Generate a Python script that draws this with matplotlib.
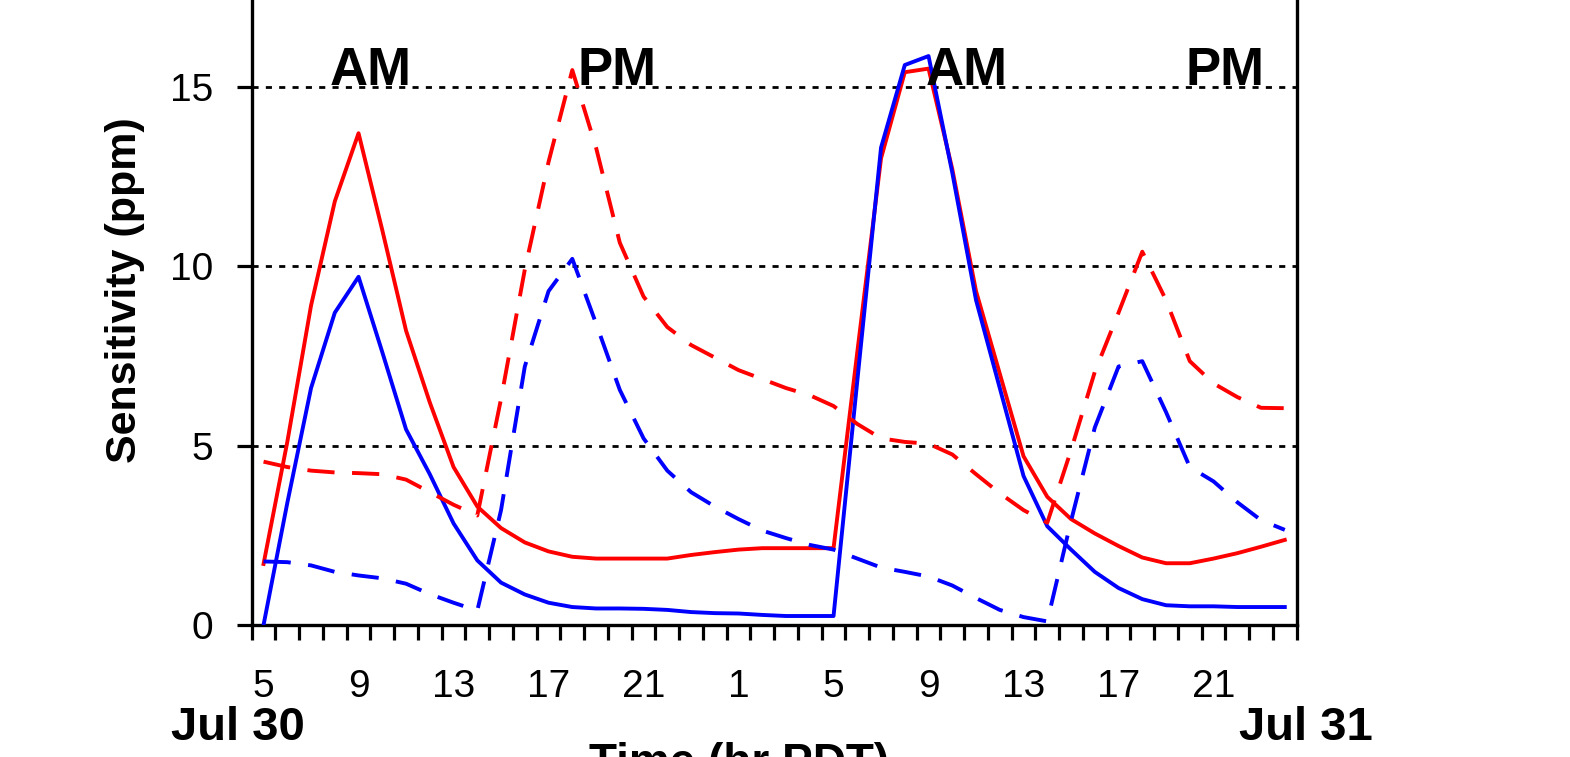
import numpy as np
import matplotlib
matplotlib.use('Agg')
import matplotlib.pyplot as plt
from matplotlib.ticker import FixedLocator

plt.rcParams['font.family'] = ['Liberation Sans', 'DejaVu Sans']

# hours since midnight Jul 30 (5 = 05:00 Jul 30, 29 = 05:00 Jul 31)
hours = list(range(5, 49))

red_solid = [1.7, 5.1, 8.9, 11.8, 13.7, 11.0, 8.2, 6.2, 4.4, 3.3,
             2.7, 2.3, 2.05, 1.9, 1.85, 1.85, 1.85, 1.85, 1.95, 2.03,
             2.1, 2.14, 2.14, 2.14, 2.14, 7.6, 13.0, 15.4, 15.5, 12.7,
             9.3, 7.0, 4.7, 3.57, 2.95, 2.55, 2.2, 1.88, 1.72, 1.72,
             1.85, 2.0, 2.18, 2.37]
blue_solid = [0.0, 3.4, 6.6, 8.7, 9.7, 7.6, 5.45, 4.2, 2.83, 1.8,
              1.18, 0.85, 0.62, 0.5, 0.46, 0.46, 0.45, 0.42, 0.36, 0.33,
              0.32, 0.28, 0.25, 0.25, 0.25, 6.8, 13.3, 15.6, 15.85, 12.6,
              9.05, 6.6, 4.15, 2.75, 2.1, 1.48, 1.03, 0.72, 0.55, 0.52,
              0.52, 0.5, 0.5, 0.5]
red_dash = [4.55, 4.4, 4.3, 4.25, 4.23, 4.2, 4.05, 3.7, 3.35, 3.05,
            6.3, 9.9, 12.9, 15.46, 13.3, 10.65, 9.15, 8.3, 7.8, 7.45,
            7.1, 6.85, 6.6, 6.4, 6.1, 5.6, 5.2, 5.1, 5.05, 4.75,
            4.2, 3.67, 3.2, 2.85, 4.87, 7.05, 8.7, 10.4, 9.05, 7.35,
            6.73, 6.35, 6.05, 6.04]
blue_dash = [1.77, 1.75, 1.66, 1.48, 1.38, 1.3, 1.15, 0.86, 0.62, 0.4,
             3.2, 7.2, 9.3, 10.2, 8.4, 6.55, 5.2, 4.3, 3.7, 3.3,
             2.95, 2.63, 2.42, 2.23, 2.1, 1.85, 1.6, 1.48, 1.35, 1.1,
             0.75, 0.42, 0.22, 0.1, 2.9, 5.5, 7.2, 7.35, 5.93, 4.4,
             4.0, 3.42, 2.92, 2.65]

tick_hours = [5, 9, 13, 17, 21, 25, 29, 33, 37, 41, 45]
tick_labels = ['5', '9', '13', '17', '21', '1', '5', '9', '13', '17', '21']

period_labels = ['AM', 'PM', 'AM', 'PM']
period_hours = [9.5, 19.9, 34.6, 45.5]

fig = plt.figure(figsize=(15.7, 7.57), dpi=100)
ax = fig.add_axes([0.1603, 0.1744, 0.6656, 0.8535])

for y in [5, 10, 15]:
    ax.axhline(y, color='black', lw=2.0, linestyle=(0, (2.2, 2.6)), zorder=1)

dash = (0, (7, 4.5))
ax.plot(hours, red_solid, color='#ff0000', lw=2.8, zorder=3)
ax.plot(hours, blue_solid, color='#0000ff', lw=2.8, zorder=3)
ax.plot(hours, red_dash, color='#ff0000', lw=2.8, linestyle=dash, zorder=3)
ax.plot(hours, blue_dash, color='#0000ff', lw=2.8, linestyle=dash, zorder=3)

ax.set_xlim(4.5, 48.5)
ax.set_ylim(0, 18)

for s in ['left', 'right', 'bottom']:
    ax.spines[s].set_linewidth(2.4)
ax.spines['top'].set_visible(False)

ax.set_yticks([0, 5, 10, 15])
ax.tick_params(axis='y', direction='out', length=11, width=2.3,
               labelsize=28, pad=17)

ax.xaxis.set_major_locator(FixedLocator(tick_hours))
ax.set_xticklabels(tick_labels)
ax.xaxis.set_minor_locator(FixedLocator(np.arange(4.5, 49, 1.0)))
ax.tick_params(axis='x', which='major', length=0, labelsize=28, pad=32)
ax.tick_params(axis='x', which='minor', direction='out', length=11, width=2.3)

for lab, h in zip(period_labels, period_hours):
    ax.text(h, 15.05, lab, ha='center', va='baseline', fontsize=38,
            fontweight='bold', zorder=4)

fig.text(238 / 1570, 1 - 728 / 757, 'Jul 30', ha='center', va='center',
         fontsize=34, fontweight='bold')
fig.text(1306 / 1570, 1 - 728 / 757, 'Jul 31', ha='center', va='center',
         fontsize=34, fontweight='bold')
fig.text(739 / 1570, 1 - 742 / 757, 'Time (hr PDT)', ha='center', va='top',
         fontsize=33, fontweight='bold')
fig.text(125 / 1570, 1 - 290 / 757, 'Sensitivity (ppm)', ha='center',
         va='center', rotation=90, fontsize=31, fontweight='bold')

fig.savefig('out.png', dpi=100)
